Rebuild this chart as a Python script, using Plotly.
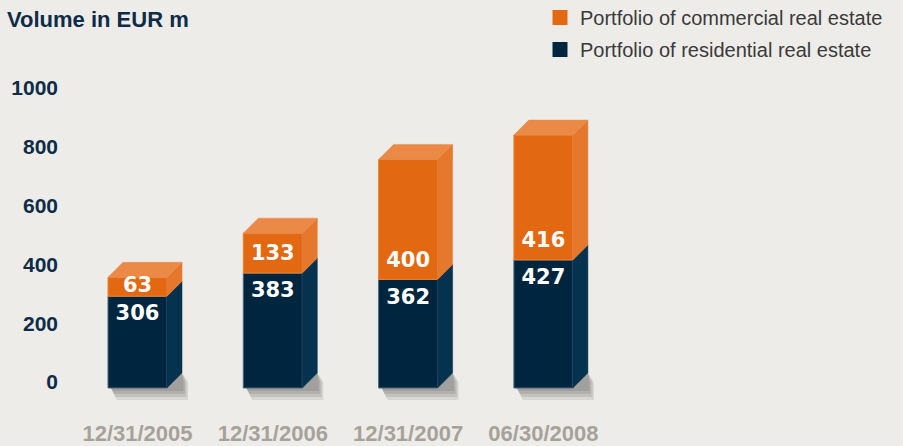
import plotly.graph_objects as go

# ---------------- data ----------------
categories = ["12/31/2005", "12/31/2006", "12/31/2007", "06/30/2008"]
residential = [306, 383, 362, 427]
commercial = [63, 133, 400, 416]
y_ticks = [0, 200, 400, 600, 800, 1000]
series_names = ["Portfolio of commercial real estate", "Portfolio of residential real estate"]
title_text = "Volume in EUR m"

# ---------------- styling / geometry ----------------
W, H = 903, 446
ML, MR, MT, MB = 63, 0, 0, 31
plot_w = W - ML - MR
plot_h = H - MT - MB

PX_PER_CAT = 135.3
FIRST_CENTER_PX = 137.5
BAR_PX = 59
DEPTH_PX = 15
PX_PER_UNIT = 0.3
ZERO_PX = 388
TICK_PX_PER_UNIT = 0.294
TICK_ZERO_PX = 382

BG = "#EDECE9"
NAVY = "#00263F"
NAVY_SIDE = "#04324F"
NAVY_EDGE = "#4A6680"
ORANGE = "#E36812"
ORANGE_SIDE = "#E5782C"
ORANGE_TOP = "#EA8A46"
ORANGE_EDGE = "#E8853A"
DARK = "#0E2C47"
GRAY = "#A6A29A"
LEGEND_TXT = "#3A3A3A"
SANS = "Liberation Sans, Arial, sans-serif"

x0 = -(FIRST_CENTER_PX - ML) / PX_PER_CAT
x1 = x0 + plot_w / PX_PER_CAT
y_top = (ZERO_PX - MT) / PX_PER_UNIT
y_bot = -(MT + plot_h - ZERO_PX) / PX_PER_UNIT
t_top = (TICK_ZERO_PX - MT) / TICK_PX_PER_UNIT
t_bot = -(MT + plot_h - TICK_ZERO_PX) / TICK_PX_PER_UNIT

xs = list(range(len(categories)))
bw = BAR_PX / PX_PER_CAT
dx = DEPTH_PX / PX_PER_CAT
dy = DEPTH_PX / PX_PER_UNIT
px_x = 1 / PX_PER_CAT
px_y = 1 / PX_PER_UNIT

fig = go.Figure()

# front faces
fig.add_trace(go.Bar(x=xs, y=residential, width=bw, name=series_names[1],
                     marker=dict(color=NAVY, line=dict(color=NAVY_EDGE, width=1)),
                     showlegend=False, hoverinfo="skip"))
fig.add_trace(go.Bar(x=xs, y=commercial, base=residential, width=bw, name=series_names[0],
                     marker=dict(color=ORANGE, line=dict(color=ORANGE_EDGE, width=1)),
                     showlegend=False, hoverinfo="skip"))

shapes = []
for i, x in enumerate(xs):
    xl, xr = x - bw / 2, x + bw / 2
    r, c = residential[i], commercial[i]
    tot = r + c
    # side faces
    for (b0, b1, col) in [(0, r, NAVY_SIDE), (r, tot, ORANGE_SIDE)]:
        fig.add_trace(go.Scatter(
            x=[xr, xr + dx, xr + dx, xr, xr], y=[b0, b0 + dy, b1 + dy, b1, b0],
            fill="toself", fillcolor=col, mode="lines", line=dict(width=0.5, color=col),
            showlegend=False, hoverinfo="skip"))
    # top face
    fig.add_trace(go.Scatter(
        x=[xl, xl + dx, xr + dx, xr, xl], y=[tot, tot + dy, tot + dy, tot, tot],
        fill="toself", fillcolor=ORANGE_TOP, mode="lines", line=dict(width=0.5, color=ORANGE_TOP),
        showlegend=False, hoverinfo="skip"))
    # soft shadow (layered, below traces)
    for k in [3, 6, 9, 12]:
        a = k * 0.5
        path = (f"M {xl + 3 * px_x},0 L {xr},0 L {xr + dx},{dy} "
                f"L {xr + dx + a * px_x},{dy * 0.4} L {xr + dx + a * px_x},{-k * px_y} "
                f"L {xl + 3 * px_x + a * px_x},{-k * px_y} Z")
        shapes.append(dict(type="path", path=path, xref="x", yref="y", layer="below",
                           fillcolor="rgba(40,40,40,0.11)", line=dict(width=0)))

# value labels
lab_x, lab_y, lab_t = [], [], []
for i, x in enumerate(xs):
    r, c = residential[i], commercial[i]
    lab_x.append(x); lab_y.append(r - 19 * px_y); lab_t.append(str(r))
    lab_x.append(x); lab_y.append(r + min(18 * px_y, c / 2)); lab_t.append(str(c))
fig.add_trace(go.Scatter(x=lab_x, y=lab_y, text=lab_t, mode="text",
                         textfont=dict(family="DejaVu Sans", size=21, color="white", weight="bold"),
                         showlegend=False, hoverinfo="skip"))

# legend entries
fig.add_trace(go.Scatter(x=[None], y=[None], mode="markers", name=series_names[0],
                         legendgroup="a",
                         marker=dict(symbol="square", size=15, color=ORANGE)))
fig.add_trace(go.Scatter(x=[None], y=[None], mode="markers", name=series_names[1],
                         legendgroup="b",
                         marker=dict(symbol="square", size=15, color=NAVY)))

# tick-label axis helper
fig.add_trace(go.Scatter(x=[xs[0]], y=[0], yaxis="y2", mode="markers",
                         marker=dict(opacity=0), showlegend=False, hoverinfo="skip"))

fig.update_layout(
    width=W, height=H,
    margin=dict(l=ML, r=MR, t=MT, b=MB, pad=0, autoexpand=False),
    paper_bgcolor=BG, plot_bgcolor=BG,
    barmode="overlay",
    shapes=shapes,
    title=dict(text=title_text, x=7 / W, xanchor="left", xref="container",
               y=1 - 19 / H, yanchor="middle", yref="container",
               font=dict(family=SANS, size=22, color=DARK, weight="bold")),
    xaxis=dict(range=[x0, x1], tickvals=xs, ticktext=categories,
               showgrid=False, zeroline=False, showline=False, ticks="",
               tickangle=0, automargin=False, ticklabelstandoff=3,
               tickfont=dict(family=SANS, size=22, color=GRAY, weight="bold")),
    yaxis=dict(range=[y_bot, y_top], visible=False, automargin=False),
    yaxis2=dict(range=[t_bot, t_top], overlaying="y", side="left", tickvals=y_ticks,
                showgrid=False, zeroline=False, showline=False, ticks="",
                automargin=False, ticklabelstandoff=4,
                tickfont=dict(family=SANS, size=21, color=DARK, weight="bold")),
    legend=dict(x=(540 - ML) / plot_w, xanchor="left",
                y=1 + (2 + MT) / plot_h, yanchor="top",
                bgcolor="rgba(0,0,0,0)", tracegroupgap=3,
                font=dict(family=SANS, size=20, color=LEGEND_TXT)),
    showlegend=True,
)

fig.write_html("out.html", config={"displayModeBar": False},
               post_script="document.body.style.margin='0px';document.body.style.overflow='hidden';")
